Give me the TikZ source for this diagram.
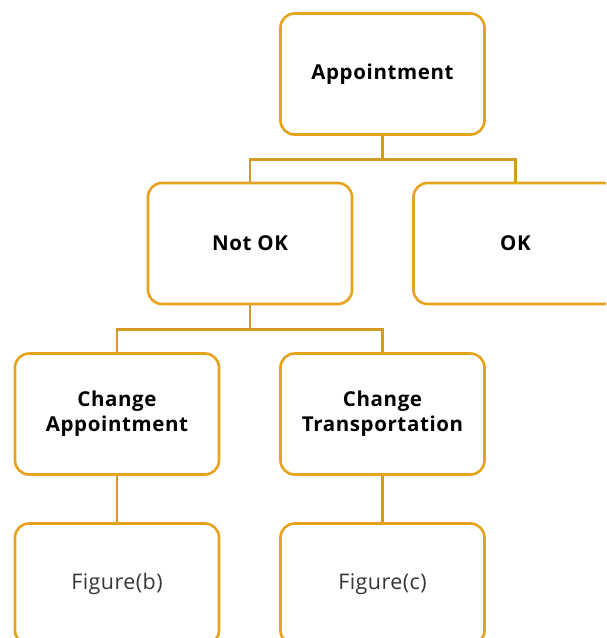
\documentclass[tikz,border=0pt]{standalone}
\usepackage{fontspec}
\setmainfont{Open Sans}
\newfontfamily\headfont[LetterSpace=3]{Open Sans}
\newfontfamily\leaffont[LetterSpace=2]{Open Sans}
\definecolor{boxline}{HTML}{E5A21A}
\definecolor{linkline}{HTML}{D49B22}
\definecolor{softtext}{HTML}{363636}
\begin{document}
\begin{tikzpicture}[x=1pt,y=-1pt,
  box/.style={draw=boxline, line width=2.6pt, rounded corners=14pt, fill=white,
    minimum width=204pt, minimum height=121pt, align=center, inner sep=0pt,
    font=\headfont\fontsize{20.5}{25}\selectfont\bfseries},
  leafbox/.style={box, font=\leaffont\fontsize{21.5}{25}\selectfont, text=softtext},
  link/.style={draw=linkline, line width=2.8pt}]
\useasboundingbox (0,0) rectangle (606,638);
\clip (0,0) rectangle (606,638);
\node[box] (appt) at (382.5,74) {Appointment};
\node[box] (notok) at (250,243.5) {Not OK};
\node[box] (ok) at (515.5,243.5) {OK};
\node[box] (chappt) at (117,414) {Change\\Appointment};
\node[box] (chtrans) at (382.5,414) {Change\\Transportation};
\node[leafbox] (figb) at (117,584) {Figure(b)};
\node[leafbox] (figc) at (382.5,584) {Figure(c)};
\draw[link] (appt.south) -- ++(0,24) coordinate (j1);
\draw[link] (notok.north) |- (j1) -| (ok.north);
\draw[link] (notok.south) -- ++(0,24) coordinate (j2);
\draw[link] (chappt.north) |- (j2) -| (chtrans.north);
\draw[link] (chappt.south) -- (figb.north);
\draw[link] (chtrans.south) -- (figc.north);
\end{tikzpicture}
\end{document}
